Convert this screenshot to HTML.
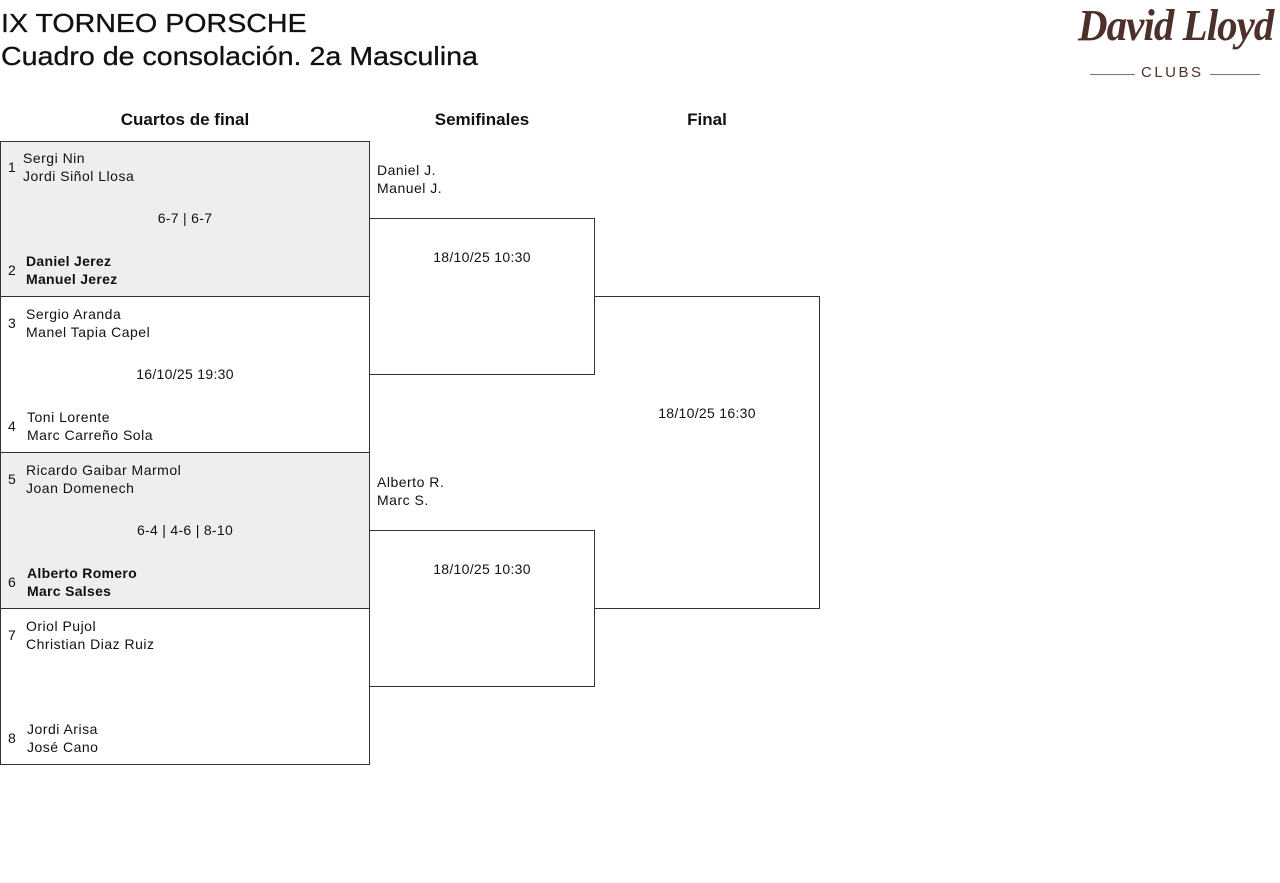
<!DOCTYPE html>
<html><head><meta charset="utf-8"><style>
body{margin:0;width:1280px;height:883px;background:#fff;font-family:"Liberation Sans",sans-serif;color:#111;position:relative;overflow:hidden}
.a{position:absolute;white-space:nowrap}
.t{font-size:26px;left:1px;transform-origin:0 0;transform:scaleX(1.1);font-weight:500;-webkit-text-stroke:0.3px #111}
.h{font-size:17px;font-weight:bold;transform:translateX(-50%)}
.box{position:absolute;border:1px solid #333;box-sizing:border-box}
.g{background:#eee}
.s{font-size:14px;line-height:18px;letter-spacing:0.5px}
.b{font-weight:bold;letter-spacing:0.3px}
.c{font-size:14px;letter-spacing:0.3px;transform:translateX(-50%)}
</style></head><body>
<div class="a t" style="top:8px">IX TORNEO PORSCHE</div>
<div class="a t" style="top:41px">Cuadro de consolación. 2a Masculina</div>
<div class="a" style="left:1078px;top:0px;font-family:'Liberation Serif',serif;font-style:italic;font-weight:bold;font-size:44px;color:#4e302a;letter-spacing:-1px;transform-origin:0 0;transform:scaleX(0.93)">David Lloyd</div>
<div class="a" style="left:1090px;top:74px;width:170px;border-top:1px solid #8a6f68"></div>
<div class="a" style="left:1135px;top:64px;background:#fff;padding:0 6px;font-size:15px;letter-spacing:2.5px;color:#4e302a">CLUBS</div>

<div class="a h" style="left:185px;top:110px">Cuartos de final</div>
<div class="a h" style="left:482px;top:110px">Semifinales</div>
<div class="a h" style="left:707px;top:110px">Final</div>

<div class="box g" style="left:0;top:141px;width:370px;height:156px"></div>
<div class="box" style="left:0;top:296px;width:370px;height:157px"></div>
<div class="box g" style="left:0;top:452px;width:370px;height:157px"></div>
<div class="box" style="left:0;top:608px;width:370px;height:157px"></div>
<div class="box" style="left:369px;top:218px;width:226px;height:157px;border-left:none"></div>
<div class="box" style="left:369px;top:530px;width:226px;height:157px;border-left:none"></div>
<div class="box" style="left:594px;top:296px;width:226px;height:313px;border-left:none"></div>

<div class="a s" style="left:8px;top:158px">1</div><div class="a s" style="left:23px;top:149px">Sergi Nin<br>Jordi Siñol Llosa</div>
<div class="a c" style="left:185px;top:210px">6-7 | 6-7</div>
<div class="a s" style="left:8px;top:261px">2</div><div class="a s b" style="left:26px;top:252px">Daniel Jerez<br>Manuel Jerez</div>

<div class="a s" style="left:8px;top:314px">3</div><div class="a s" style="left:26px;top:305px">Sergio Aranda<br>Manel Tapia Capel</div>
<div class="a c" style="left:185px;top:366px">16/10/25 19:30</div>
<div class="a s" style="left:8px;top:417px">4</div><div class="a s" style="left:27px;top:408px">Toni Lorente<br>Marc Carreño Sola</div>

<div class="a s" style="left:8px;top:470px">5</div><div class="a s" style="left:26px;top:461px">Ricardo Gaibar Marmol<br>Joan Domenech</div>
<div class="a c" style="left:185px;top:522px">6-4 | 4-6 | 8-10</div>
<div class="a s" style="left:8px;top:573px">6</div><div class="a s b" style="left:27px;top:564px">Alberto Romero<br>Marc Salses</div>

<div class="a s" style="left:8px;top:626px">7</div><div class="a s" style="left:26px;top:617px">Oriol Pujol<br>Christian Diaz Ruiz</div>
<div class="a s" style="left:8px;top:729px">8</div><div class="a s" style="left:27px;top:720px">Jordi Arisa<br>José Cano</div>

<div class="a s" style="left:377px;top:161px">Daniel J.<br>Manuel J.</div>
<div class="a c" style="left:482px;top:249px">18/10/25 10:30</div>
<div class="a s" style="left:377px;top:473px">Alberto R.<br>Marc S.</div>
<div class="a c" style="left:482px;top:561px">18/10/25 10:30</div>
<div class="a c" style="left:707px;top:405px">18/10/25 16:30</div>
</body></html>
